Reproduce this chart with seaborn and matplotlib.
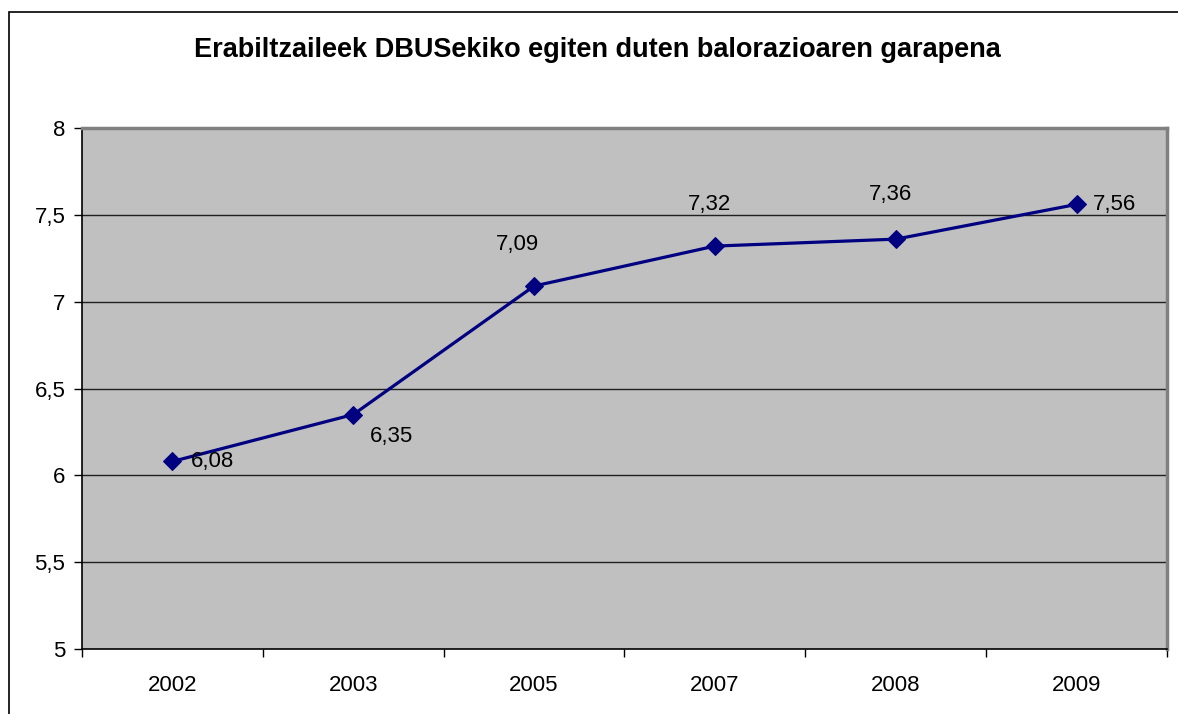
import matplotlib
matplotlib.use("Agg")
import matplotlib.pyplot as plt
import seaborn as sns
import pandas as pd
from matplotlib.patches import Rectangle

years = ["2002", "2003", "2005", "2007", "2008", "2009"]
ratings = [6.08, 6.35, 7.09, 7.32, 7.36, 7.56]
label_texts = ["6,08", "6,35", "7,09", "7,32", "7,36", "7,56"]
y_ticks = [5, 5.5, 6, 6.5, 7, 7.5, 8]
y_tick_labels = ["5", "5,5", "6", "6,5", "7", "7,5", "8"]

# label placement (points offset), mimicking Excel's auto placement
label_offsets = [(13, 0), (12, -16), (-12, 30), (-4, 30), (-4, 32), (12, 0)]
label_align = ["left", "left", "center", "center", "center", "left"]

sns.set_style("white")
plt.rcParams["font.family"] = ["Liberation Sans", "DejaVu Sans"]
plt.rcParams["text.color"] = "black"
plt.rcParams["xtick.color"] = "black"
plt.rcParams["ytick.color"] = "black"

fig = plt.figure(figsize=(11.78, 7.14), dpi=100)
ax = fig.add_axes([82 / 1178, 1 - 649 / 714, (1167 - 82) / 1178, (649 - 128) / 714])
ax.set_facecolor("#c0c0c0")

df = pd.DataFrame({"year": years, "rating": ratings})
df["pos"] = range(len(df))
sns.lineplot(data=df, x="pos", y="rating", ax=ax, color="#000080", linewidth=2.3,
             marker="D", markersize=9, markeredgecolor="#000080", markerfacecolor="#000080")

for i, (v, t) in enumerate(zip(ratings, label_texts)):
    ax.annotate(t, (i, v), xytext=label_offsets[i], textcoords="offset points",
                ha=label_align[i], va="center", fontsize=16, color="black")

ax.set_ylim(5, 8)
ax.set_yticks(y_ticks)
ax.set_yticklabels(y_tick_labels, fontsize=16)
for y in y_ticks[1:-1]:
    ax.axhline(y, color="#202020", linewidth=1, zorder=0.5)

ax.set_xlim(-0.5, len(years) - 0.5)
ax.set_xticks(range(len(years)))
ax.set_xticklabels(years, fontsize=16)
ax.tick_params(axis="x", which="major", length=0, pad=19)
ax.set_xticks([i - 0.5 for i in range(len(years) + 1)], minor=True)
ax.tick_params(axis="x", which="minor", length=6, width=1, color="black",
               direction="out", bottom=True)
ax.tick_params(axis="y", length=6, width=1, color="black", direction="out", pad=6, left=True)
ax.set_xlabel("")
ax.set_ylabel("")

for s in ["left", "bottom"]:
    ax.spines[s].set_color("black")
    ax.spines[s].set_linewidth(1.2)
for s in ["top", "right"]:
    ax.spines[s].set_visible(True)
    ax.spines[s].set_color("#808080")
    ax.spines[s].set_linewidth(2.5)

fig.text(597 / 1178, 1 - 50 / 714, "Erabiltzaileek DBUSekiko egiten duten balorazioaren garapena",
         ha="center", va="center", fontsize=19.5, fontweight="bold", color="black")

fig.patches.append(Rectangle((9 / 1178, -0.05), 1.1, 1 - 12 / 714 + 0.05,
                             transform=fig.transFigure, fill=False, edgecolor="black",
                             linewidth=1.2))

fig.savefig("out.png", dpi=100)
